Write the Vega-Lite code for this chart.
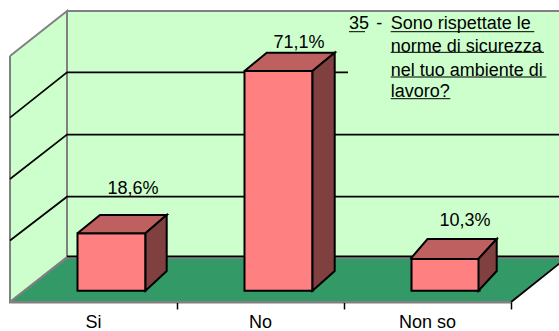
{"$schema":"https://vega.github.io/schema/vega-lite/v6.json","width":559,"height":331,"padding":0,"autosize":"none","background":"white","config":{"view":{"stroke":null}},
"datasets":{
"risposte":[{"risposta":"Si","valore":18.6,"etichetta":"18,6%"},{"risposta":"No","valore":71.1,"etichetta":"71,1%"},{"risposta":"Non so","valore":10.3,"etichetta":"10,3%"}],
"pareti":[
{"faccia":"fondo","k":0,"u":0.3413,"v":90.52},{"faccia":"fondo","k":1,"u":3.333,"v":90.52},{"faccia":"fondo","k":2,"u":3.333,"v":10.91},{"faccia":"fondo","k":3,"u":0.3413,"v":10.91},{"faccia":"fondo","k":4,"u":0.3413,"v":90.52},
{"faccia":"sinistra","k":0,"u":0,"v":75.95},{"faccia":"sinistra","k":1,"u":0.3413,"v":90.52},{"faccia":"sinistra","k":2,"u":0.3413,"v":10.91},{"faccia":"sinistra","k":3,"u":0,"v":-3.66},{"faccia":"sinistra","k":4,"u":0,"v":75.95},
{"faccia":"pavimento","k":0,"u":0,"v":-3.66},{"faccia":"pavimento","k":1,"u":0.3413,"v":10.68},{"faccia":"pavimento","k":2,"u":3.333,"v":10.68},{"faccia":"pavimento","k":3,"u":3,"v":-3.66},{"faccia":"pavimento","k":4,"u":0,"v":-3.66}],
"griglia":[
{"linea":"g80","k":0,"u":0,"v":55.99},{"linea":"g80","k":1,"u":0.3413,"v":70.68},{"linea":"g80","k":2,"u":3.333,"v":70.68},
{"linea":"g60","k":0,"u":0,"v":36.15},{"linea":"g60","k":1,"u":0.3413,"v":50.49},{"linea":"g60","k":2,"u":3.333,"v":50.49},
{"linea":"g40","k":0,"u":0,"v":16.25},{"linea":"g40","k":1,"u":0.3413,"v":30.42},{"linea":"g40","k":2,"u":3.333,"v":30.42},
{"linea":"g20","k":0,"u":0.3413,"v":11.13},{"linea":"g20","k":1,"u":3.333,"v":11.13},
{"linea":"bordo","k":0,"u":3,"v":-3.66},{"linea":"bordo","k":1,"u":3.333,"v":10.68}],
"riquadro":[{"u":2.024,"u2":3.333,"v":90.0,"v2":58.5}],
"facce":[
{"barra":"Si","faccia":"sopra","k":0,"u":0.4042,"v":18.6},{"barra":"Si","faccia":"sopra","k":1,"u":0.8114,"v":18.6},{"barra":"Si","faccia":"sopra","k":2,"u":0.9383,"v":24.5},{"barra":"Si","faccia":"sopra","k":3,"u":0.5389,"v":24.5},{"barra":"Si","faccia":"sopra","k":4,"u":0.4042,"v":18.6},
{"barra":"Si","faccia":"lato","k":0,"u":0.8114,"v":18.6},{"barra":"Si","faccia":"lato","k":1,"u":0.9383,"v":24.5},{"barra":"Si","faccia":"lato","k":2,"u":0.9383,"v":6.38},{"barra":"Si","faccia":"lato","k":3,"u":0.8114,"v":0},{"barra":"Si","faccia":"lato","k":4,"u":0.8114,"v":18.6},
{"barra":"No","faccia":"sopra","k":0,"u":1.4042,"v":71.1},{"barra":"No","faccia":"sopra","k":1,"u":1.8114,"v":71.1},{"barra":"No","faccia":"sopra","k":2,"u":1.9443,"v":77.02},{"barra":"No","faccia":"sopra","k":3,"u":1.5371,"v":77.02},{"barra":"No","faccia":"sopra","k":4,"u":1.4042,"v":71.1},
{"barra":"No","faccia":"lato","k":0,"u":1.8114,"v":71.1},{"barra":"No","faccia":"lato","k":1,"u":1.9443,"v":77.02},{"barra":"No","faccia":"lato","k":2,"u":1.9443,"v":6.38},{"barra":"No","faccia":"lato","k":3,"u":1.8114,"v":0},{"barra":"No","faccia":"lato","k":4,"u":1.8114,"v":71.1},
{"barra":"Non so","faccia":"sopra","k":0,"u":2.3982,"v":10.3},{"barra":"Non so","faccia":"sopra","k":1,"u":2.8054,"v":10.3},{"barra":"Non so","faccia":"sopra","k":2,"u":2.9144,"v":16.73},{"barra":"Non so","faccia":"sopra","k":3,"u":2.5,"v":16.73},{"barra":"Non so","faccia":"sopra","k":4,"u":2.3982,"v":10.3},
{"barra":"Non so","faccia":"lato","k":0,"u":2.8054,"v":10.3},{"barra":"Non so","faccia":"lato","k":1,"u":2.9144,"v":16.73},{"barra":"Non so","faccia":"lato","k":2,"u":2.9144,"v":6.38},{"barra":"Non so","faccia":"lato","k":3,"u":2.8054,"v":0},{"barra":"Non so","faccia":"lato","k":4,"u":2.8054,"v":10.3}],
"sottolineature":[
{"riga":"n","k":0,"u":2.0299,"v":83.82},{"riga":"n","k":1,"u":2.1257,"v":83.82},
{"riga":"a","k":0,"u":2.2796,"v":83.82},{"riga":"a","k":1,"u":3.1395,"v":83.82},
{"riga":"b","k":0,"u":2.2796,"v":77.15},{"riga":"b","k":1,"u":3.1976,"v":77.15},
{"riga":"c","k":0,"u":2.2796,"v":69.16},{"riga":"c","k":1,"u":3.2114,"v":69.16},
{"riga":"d","k":0,"u":2.2796,"v":62.14},{"riga":"d","k":1,"u":2.6365,"v":62.14}],
"testo":[
{"testo":"35","u":2.0299,"v":84.6},{"testo":"-","u":2.193,"v":84.6},
{"testo":"Sono rispettate le","u":2.2796,"v":84.6},{"testo":"norme di sicurezza","u":2.2796,"v":77.35},{"testo":"nel tuo ambiente di","u":2.2796,"v":69.48},{"testo":"lavoro?","u":2.2796,"v":62.6}]
},
"resolve":{"scale":{"x":"independent","fill":"independent"}},
"layer":[
{"data":{"name":"pareti"},"mark":{"type":"line","stroke":"#808080","strokeWidth":2,"strokeJoin":"miter"},"encoding":{
"x":{"field":"u","type":"quantitative","axis":null,"scale":{"domain":[-0.0599,3.2874],"nice":false,"zero":false}},
"y":{"field":"v","type":"quantitative","axis":null,"scale":{"domain":[-13.04,94.08],"nice":false,"zero":false}},
"order":{"field":"k"},"detail":{"field":"faccia"},
"fill":{"field":"faccia","type":"nominal","legend":null,"scale":{"domain":["fondo","sinistra","pavimento"],"range":["#CCFFCC","#CCFFCC","#339966"]}}}},
{"data":{"name":"griglia"},"mark":{"type":"line","stroke":"#000000","strokeWidth":1.7},"encoding":{
"x":{"field":"u","type":"quantitative","axis":null,"scale":{"domain":[-0.0599,3.2874],"nice":false,"zero":false}},
"y":{"field":"v","type":"quantitative","axis":null,"scale":{"domain":[-13.04,94.08],"nice":false,"zero":false}},
"order":{"field":"k"},"detail":{"field":"linea"}}},
{"data":{"name":"riquadro"},"mark":{"type":"rect","fill":"#CCFFCC"},"encoding":{
"x":{"field":"u","type":"quantitative","axis":null,"scale":{"domain":[-0.0599,3.2874],"nice":false,"zero":false}},"x2":{"field":"u2"},
"y":{"field":"v","type":"quantitative","axis":null,"scale":{"domain":[-13.04,94.08],"nice":false,"zero":false}},"y2":{"field":"v2"}}},
{"data":{"name":"risposte"},"mark":{"type":"bar","fill":"#FF8080","stroke":"#000000","strokeWidth":2,"width":68,"xOffset":18},"encoding":{
"x":{"field":"risposta","type":"nominal","sort":null,"title":null,"scale":{"domain":["Si","No","Non so"],"range":[10,511],"paddingInner":0,"paddingOuter":0},
"axis":{"orient":"bottom","offset":-29,"domainColor":"#000000","domainWidth":1.7,"tickColor":"#000000","tickWidth":1.5,"tickSize":7,"bandPosition":1,"tickExtra":false,"labelAngle":0,"labelFont":"Liberation Sans","labelFontSize":18,"labelColor":"#000000","labelBaseline":"alphabetic","labelPadding":18,"labelBound":false,"labelFlush":false,"grid":false}},
"y":{"field":"valore","type":"quantitative","axis":null,"scale":{"domain":[-13.04,94.08],"nice":false,"zero":false}},"y2":{"datum":0}}},
{"data":{"name":"facce"},"mark":{"type":"line","stroke":"#000000","strokeWidth":2,"strokeJoin":"miter"},"encoding":{
"x":{"field":"u","type":"quantitative","axis":null,"scale":{"domain":[-0.0599,3.2874],"nice":false,"zero":false}},
"y":{"field":"v","type":"quantitative","axis":null,"scale":{"domain":[-13.04,94.08],"nice":false,"zero":false}},
"order":{"field":"k"},"detail":{"field":"barra"},
"fill":{"field":"faccia","type":"nominal","legend":null,"scale":{"domain":["sopra","lato"],"range":["#BF6060","#804040"]}}}},
{"data":{"name":"sottolineature"},"mark":{"type":"line","stroke":"#000000","strokeWidth":1},"encoding":{
"x":{"field":"u","type":"quantitative","axis":null,"scale":{"domain":[-0.0599,3.2874],"nice":false,"zero":false}},
"y":{"field":"v","type":"quantitative","axis":null,"scale":{"domain":[-13.04,94.08],"nice":false,"zero":false}},
"order":{"field":"k"},"detail":{"field":"riga"}}},
{"data":{"name":"testo"},"mark":{"type":"text","align":"left","baseline":"alphabetic","font":"Liberation Sans","fontSize":18,"fill":"#000000"},"encoding":{
"x":{"field":"u","type":"quantitative","axis":null,"scale":{"domain":[-0.0599,3.2874],"nice":false,"zero":false}},
"y":{"field":"v","type":"quantitative","axis":null,"scale":{"domain":[-13.04,94.08],"nice":false,"zero":false}},
"text":{"field":"testo"}}},
{"data":{"name":"risposte"},"transform":[{"filter":"datum.risposta==='Si'"}],"mark":{"type":"text","align":"center","baseline":"alphabetic","font":"Liberation Sans","fontSize":18,"fill":"#000000","xOffset":39.5,"dy":-39},"encoding":{
"x":{"field":"risposta","type":"nominal","axis":null,"scale":{"domain":["Si","No","Non so"],"range":[10,511],"paddingInner":0,"paddingOuter":0}},
"y":{"field":"valore","type":"quantitative","axis":null,"scale":{"domain":[-13.04,94.08],"nice":false,"zero":false}},"text":{"field":"etichetta"}}},
{"data":{"name":"risposte"},"transform":[{"filter":"datum.risposta==='No'"}],"mark":{"type":"text","align":"center","baseline":"alphabetic","font":"Liberation Sans","fontSize":18,"fill":"#000000","xOffset":38.5,"dy":-23},"encoding":{
"x":{"field":"risposta","type":"nominal","axis":null,"scale":{"domain":["Si","No","Non so"],"range":[10,511],"paddingInner":0,"paddingOuter":0}},
"y":{"field":"valore","type":"quantitative","axis":null,"scale":{"domain":[-13.04,94.08],"nice":false,"zero":false}},"text":{"field":"etichetta"}}},
{"data":{"name":"risposte"},"transform":[{"filter":"datum.risposta==='Non so'"}],"mark":{"type":"text","align":"center","baseline":"alphabetic","font":"Liberation Sans","fontSize":18,"fill":"#000000","xOffset":37.5,"dy":-33},"encoding":{
"x":{"field":"risposta","type":"nominal","axis":null,"scale":{"domain":["Si","No","Non so"],"range":[10,511],"paddingInner":0,"paddingOuter":0}},
"y":{"field":"valore","type":"quantitative","axis":null,"scale":{"domain":[-13.04,94.08],"nice":false,"zero":false}},"text":{"field":"etichetta"}}}
]}
